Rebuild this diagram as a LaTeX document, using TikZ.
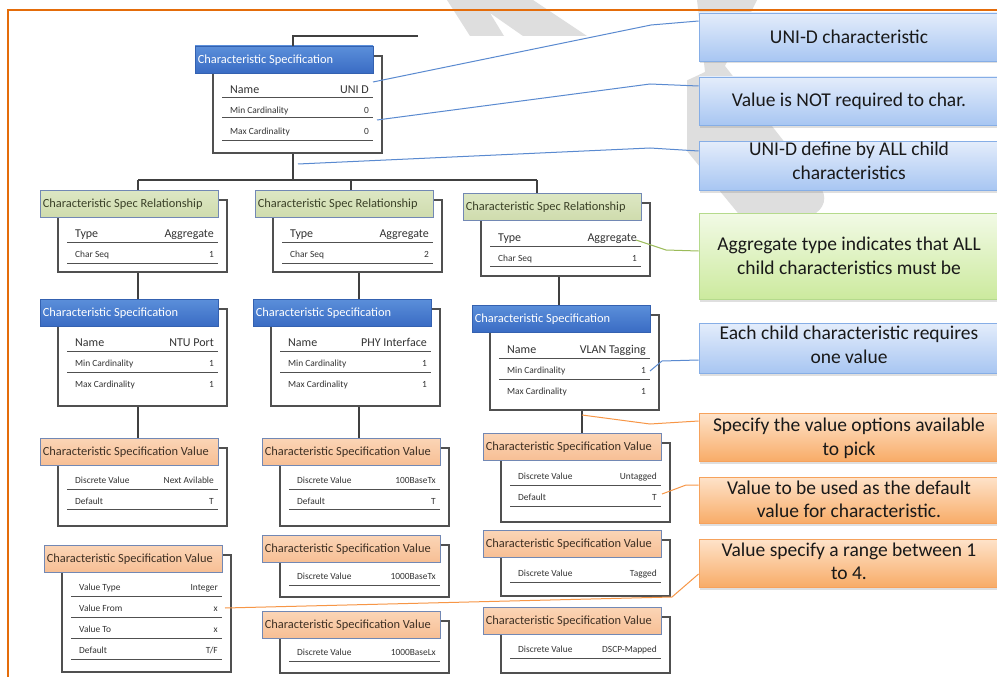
\documentclass[tikz,border=0pt]{standalone}
\usepackage{fontspec}
\setmainfont{Carlito}
\usetikzlibrary{fit,shadows,calc}

\definecolor{frameor}{HTML}{E46C0A}
\definecolor{wmgray}{HTML}{DEDEDE}
\definecolor{boxline}{HTML}{505050}
\definecolor{trunkc}{HTML}{404040}
\definecolor{rowtext}{HTML}{333333}
\definecolor{hbluet}{HTML}{5B8FDA}
\definecolor{hblueb}{HTML}{3A6CC4}
\definecolor{hbluel}{HTML}{3461B0}
\definecolor{hgreent}{HTML}{DDE7C4}
\definecolor{hgreenb}{HTML}{CFDCAD}
\definecolor{hheadl}{HTML}{7288B4}
\definecolor{horanget}{HTML}{FBD5B6}
\definecolor{horangeb}{HTML}{F7BF95}
\definecolor{gtxt}{HTML}{3B4128}
\definecolor{otxt}{HTML}{3E3024}
\definecolor{cbluet}{HTML}{E4EDFB}
\definecolor{cblueb}{HTML}{A8C6F2}
\definecolor{cbluel}{HTML}{86AEE6}
\definecolor{cgreent}{HTML}{F2FAE6}
\definecolor{cgreenb}{HTML}{CCEA9E}
\definecolor{cgreenl}{HTML}{B5DA8C}
\definecolor{coranget}{HTML}{FEE3CA}
\definecolor{corangeb}{HTML}{F8AC68}
\definecolor{corangel}{HTML}{F6A25C}
\definecolor{lblue}{HTML}{5A8AD0}
\definecolor{lgreen}{HTML}{9BBB59}
\definecolor{lorange}{HTML}{F79646}

\tikzset{
  bodybox/.style={draw=boxline, line width=1.1pt, fill=white, inner sep=0pt},
  hblue/.style={draw=hbluel, line width=0.8pt, top color=hbluet, bottom color=hblueb, inner sep=0pt},
  hgreen/.style={draw=hheadl, line width=0.8pt, top color=hgreent, bottom color=hgreenb, inner sep=0pt},
  horange/.style={draw=hheadl, line width=0.8pt, top color=horanget, bottom color=horangeb, inner sep=0pt},
  hbluetxt/.style={text=white},
  hgreentxt/.style={text=gtxt},
  horangetxt/.style={text=otxt},
  htitle/.style={anchor=west, inner sep=0pt, font=\fontsize{12.4}{14}\selectfont, yshift=-0.8pt},
  rowbig/.style={inner sep=0pt, text=rowtext, font=\fontsize{12}{14}\selectfont, text height=8.5pt, text depth=2.5pt, yshift=-1.5pt},
  rowsmall/.style={inner sep=0pt, text=rowtext, font=\fontsize{9.4}{11}\selectfont, text height=6.6pt, text depth=2pt, yshift=-1.5pt},
  sep/.style={draw=boxline, line width=1pt},
  trunk/.style={draw=trunkc, line width=1.2pt},
  callout/.style={minimum width=300pt, inner sep=0pt, line width=0.9pt,
    drop shadow={opacity=0.25, shadow xshift=1pt, shadow yshift=-2.5pt}},
  calltext/.style={inner sep=0pt, align=center, text=black!90,
    font=\fontsize{19.5}{23.5}\selectfont},
  cblue/.style={callout, draw=cbluel, top color=cbluet, bottom color=cblueb},
  cgreen/.style={callout, draw=cgreenl, top color=cgreent, bottom color=cgreenb},
  corange/.style={callout, draw=corangel, top color=coranget, bottom color=corangeb},
  leadb/.style={draw=lblue, line width=1pt},
  leadg/.style={draw=lgreen, line width=1pt},
  leado/.style={draw=lorange, line width=1pt},
}

% record: #1 name, #2 header style, #3 x, #4 header top, #5 body bottom, #6 title
\newcommand\rec[6]{%
  \def\bx{#3}%
  \node[bodybox, fit={(#3+18,#4+10)(#3+187,#5)}] (#1b) {};
  \node[#2, fit={(#3,#4)(#3+178,#4+27)}] (#1h) {};
  \node[htitle, #2txt] (#1t) at ([xshift=3pt]#1h.west) {#6};
}
% row: #1 name, #2 style, #3 text y, #4 label, #5 value, #6 rule y (may be empty)
\newcommand\recrow[6]{%
  \node[#2, anchor=west] (#1l) at (\bx+35,#3) {#4};
  \node[#2, anchor=east] (#1v) at (\bx+174,#3) {#5};
  \if\relax\detokenize{#6}\relax\else\draw[sep] (\bx+27,#6) -- (\bx+178,#6);\fi
}
% callout: #1 name, #2 style, #3 box centre y, #4 height, #5 text centre y, #6 text
\newcommand\callout[6]{%
  \node[#2, minimum height=#4pt] (#1) at (849,#3) {};
  \node[calltext] (#1t) at (849,#5) {#6};
}

\begin{document}
\begin{tikzpicture}[x=1pt, y=-1pt]
\useasboundingbox (0,0) rectangle (997,677);
\clip (0,0) rectangle (997,677);

% background logo marks
\fill[wmgray] (447,0) -- (533,0) -- (587,36) -- (523,36) -- (490,13) -- (504,36) -- (470,36) -- cycle;
\fill[wmgray] (697,0) -- (757,0) -- (725,66) -- (822,190)
  .. controls (828,200) and (822,214) .. (806,217) -- (742,218) -- (645,100) -- (705,72) -- cycle;
\fill[white] (10,36) rectangle (687,677);

% frame
\draw[frameor, line width=2pt] (8,677) -- (8,10) -- (997,10);

% ---------- root specification ----------
\rec{CS0}{hblue}{195}{46}{153}{Characteristic Specification}
\recrow{CS0n}{rowbig}{89}{Name}{UNI D}{98}
\recrow{CS0a}{rowsmall}{110}{Min Cardinality}{0}{118}
\recrow{CS0z}{rowsmall}{131}{Max Cardinality}{0}{140}

% ---------- column 1 ----------
\rec{R1}{hgreen}{40}{190}{272}{Characteristic Spec Relationship}
\recrow{R1t}{rowbig}{233}{Type}{Aggregate}{242}
\recrow{R1s}{rowsmall}{254}{Char Seq}{1}{263}

\rec{S1}{hblue}{40}{299}{406}{Characteristic Specification}
\recrow{S1n}{rowbig}{342}{Name}{NTU Port}{351}
\recrow{S1a}{rowsmall}{363}{Min Cardinality}{1}{372}
\recrow{S1z}{rowsmall}{384}{Max Cardinality}{1}{}

\rec{V1}{horange}{40}{438}{526}{Characteristic Specification Value}
\recrow{V1d}{rowsmall}{480}{Discrete Value}{Next Avilable}{489}
\recrow{V1f}{rowsmall}{501}{Default}{T}{509}

\rec{W1}{horange}{44}{545}{672}{Characteristic Specification Value}
\recrow{W1t}{rowsmall}{587}{Value Type}{Integer}{596}
\recrow{W1a}{rowsmall}{608}{Value From}{x}{617}
\recrow{W1b}{rowsmall}{629}{Value To}{x}{638}
\recrow{W1f}{rowsmall}{650}{Default}{T/F}{659}

% ---------- column 2 ----------
\rec{R2}{hgreen}{255}{190}{272}{Characteristic Spec Relationship}
\recrow{R2t}{rowbig}{233}{Type}{Aggregate}{242}
\recrow{R2s}{rowsmall}{254}{Char Seq}{2}{263}

\rec{S2}{hblue}{253}{299}{406}{Characteristic Specification}
\recrow{S2n}{rowbig}{342}{Name}{PHY Interface}{351}
\recrow{S2a}{rowsmall}{363}{Min Cardinality}{1}{372}
\recrow{S2z}{rowsmall}{384}{Max Cardinality}{1}{}

\rec{V2}{horange}{262}{438}{526}{Characteristic Specification Value}
\recrow{V2d}{rowsmall}{480}{Discrete Value}{100BaseTx}{489}
\recrow{V2f}{rowsmall}{501}{Default}{T}{509}

\rec{V2x}{horange}{262}{535}{597}{Characteristic Specification Value}
\recrow{V2xd}{rowsmall}{576}{Discrete Value}{1000BaseTx}{585}

\rec{V2y}{horange}{262}{611}{673}{Characteristic Specification Value}
\recrow{V2yd}{rowsmall}{652}{Discrete Value}{1000BaseLx}{661}

% ---------- column 3 ----------
\rec{R3}{hgreen}{463}{193}{276}{Characteristic Spec Relationship}
\recrow{R3t}{rowbig}{237}{Type}{Aggregate}{246}
\recrow{R3s}{rowsmall}{258}{Char Seq}{1}{266}

\rec{S3}{hblue}{472}{305}{410}{Characteristic Specification}
\recrow{S3n}{rowbig}{349}{Name}{VLAN Tagging}{358}
\recrow{S3a}{rowsmall}{370}{Min Cardinality}{1}{379}
\recrow{S3z}{rowsmall}{391}{Max Cardinality}{1}{}

\rec{V3}{horange}{483}{433}{522}{Characteristic Specification Value}
\recrow{V3d}{rowsmall}{476}{Discrete Value}{Untagged}{485}
\recrow{V3f}{rowsmall}{497}{Default}{T}{506}

\rec{V3x}{horange}{483}{530}{596}{Characteristic Specification Value}
\recrow{V3xd}{rowsmall}{573}{Discrete Value}{Tagged}{582}

\rec{V3y}{horange}{483}{607}{673}{Characteristic Specification Value}
\recrow{V3yd}{rowsmall}{649}{Discrete Value}{DSCP-Mapped}{658}

% ---------- tree connectors ----------
\coordinate (t0) at (293,36);
\coordinate (t0r) at (418,36);
\coordinate (j0) at (293,180);
\coordinate (jl) at (138,180);
\coordinate (jm) at (351,180);
\coordinate (jr) at (537,180);
\coordinate (x2) at (359,0);
\coordinate (x3a) at (559,0);
\coordinate (x3b) at (582,0);

\draw[trunk] (t0r) -- (t0) -- (CS0h.north -| t0);
\draw[trunk] (CS0b.south -| j0) -- (j0);
\draw[trunk] (jl) -- (jr);
\draw[trunk] (jl) -- (R1h.north -| jl);
\draw[trunk] (jm) -- (R2h.north -| jm);
\draw[trunk] (jr) -- (R3h.north -| jr);
\draw[trunk] (R1b.south -| jl) -- (S1h.north -| jl);
\draw[trunk] (S1b.south -| jl) -- (V1h.north -| jl);
\draw[trunk] (R2b.south -| x2) -- (S2h.north -| x2);
\draw[trunk] (S2b.south -| x2) -- (V2h.north -| x2);
\draw[trunk] (R3b.south -| x3a) -- (S3h.north -| x3a);
\draw[trunk] (S3b.south -| x3b) -- (V3h.north -| x3b);

% ---------- callouts ----------
\callout{c1}{cblue}{37}{48}{37}{UNI-D characteristic}
\callout{c2}{cblue}{101}{48}{101}{Value is NOT required to char.}
\callout{c3}{cblue}{165.5}{49}{161}{UNI-D define by ALL child\\characteristics}
\callout{c4}{cgreen}{256}{86}{256}{Aggregate type indicates that ALL\\child characteristics must be}
\callout{c5}{cblue}{348}{50}{345}{Each child characteristic requires\\one value}
\callout{c6}{corange}{437}{48}{438.5}{Specify the value options available\\to pick}
\callout{c7}{corange}{500}{46}{499.5}{Value to be used as the default\\value for characteristic.}
\callout{c8}{corange}{563}{48}{561.5}{Value specify a range between 1\\to 4.}

% ---------- leaders ----------
\coordinate (p1) at (373,82);  \coordinate (q1) at (651,25);
\coordinate (p2) at (377,120); \coordinate (q2) at (650,84);
\coordinate (p3) at (298,164); \coordinate (q3) at (650,148);
\coordinate (p4) at (636,240); \coordinate (q4) at (666,250);
\coordinate (p5) at (650,371); \coordinate (q5) at (662,361);
\coordinate (p6) at (582,415); \coordinate (q6) at (650,424);
\coordinate (p7) at (662,494); \coordinate (q7) at (686,485);
\coordinate (p8) at (225,608); \coordinate (q8) at (672,597);

\draw[leadb] (p1) -- (q1) -- ([yshift=16pt]c1.west);
\draw[leadb] (p2) -- (q2) -- ([yshift=15pt]c2.west);
\draw[leadb] (p3) -- (q3) -- ([yshift=14.5pt]c3.west);
\draw[leadg] (p4) -- (q4) -- ([yshift=5pt]c4.west);
\draw[leadb] (p5) -- (q5) -- ([yshift=-12pt]c5.west);
\draw[leado] (p6) -- (q6) -- ([yshift=16pt]c6.west);
\draw[leado] (p7) -- (q7) -- ([yshift=15pt]c7.west);
\draw[leado] (p8) -- (q8) -- ([yshift=-11pt]c8.west);
\end{tikzpicture}
\end{document}
